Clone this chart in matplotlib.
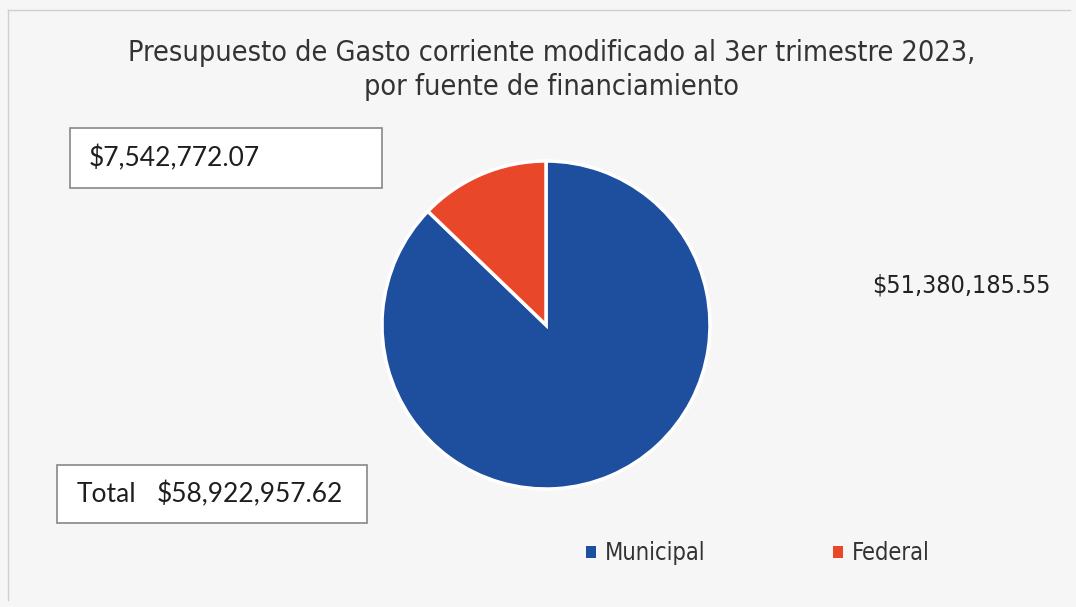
import matplotlib.pyplot as plt
from matplotlib.patches import Rectangle

# data
fuentes = ['Municipal', 'Federal']
montos = [51380185.55, 7542772.07]
colores = ['#1d4f9e', '#e9472a']
titulo = 'Presupuesto de Gasto corriente modificado al 3er trimestre 2023,\npor fuente de financiamiento'

plt.rcParams['font.family'] = ['DejaVu Sans']
plt.rcParams['font.stretch'] = 'condensed'

W, H = 1076, 607
fig = plt.figure(figsize=(W / 100, H / 100), dpi=100)
fig.patch.set_facecolor('#f6f6f6')

def fx(px):
    return px / W

def fy(py):
    return 1 - py / H

# pie axes
cx, cy, r = 546, 325, 164
ax = fig.add_axes([fx(cx - r), fy(cy + r), 2 * r / W, 2 * r / H])
ax.pie(montos, colors=colores, startangle=90, counterclock=False,
       wedgeprops=dict(edgecolor='white', linewidth=2.5))
ax.set_xlim(-1, 1)
ax.set_ylim(-1, 1)
ax.set_aspect('equal')
ax.axis('off')

fig.text(fx(552), fy(70), titulo, ha='center', va='center', fontsize=20.6,
         color='#333333', linespacing=1.3)

def fmt(v):
    return '${:,.2f}'.format(v)

box_font = dict(family=['Lato', 'DejaVu Sans'], fontstretch='normal', fontsize=19, color='#1e1e1e')

# outer frame lines
fig.add_artist(plt.Line2D([fx(8), fx(1070)], [fy(10), fy(10)], color='#cfcfcf', lw=1))
fig.add_artist(plt.Line2D([fx(8), fx(8)], [fy(10), fy(600)], color='#cfcfcf', lw=1))

# federal label box
fig.add_artist(Rectangle((fx(70), fy(188)), fx(312), 60 / H, transform=fig.transFigure,
                         facecolor='white', edgecolor='#888888', lw=1.2))
fig.text(fx(89), fy(158), fmt(montos[1]), ha='left', va='center', **box_font)

# municipal label
fig.text(fx(872), fy(285), fmt(montos[0]), ha='left', va='center', fontsize=18, color='#222222')

# total box
fig.add_artist(Rectangle((fx(57), fy(523)), fx(310), 58 / H, transform=fig.transFigure,
                         facecolor='white', edgecolor='#888888', lw=1.2))
fig.text(fx(77), fy(494), 'Total', ha='left', va='center', **box_font)
fig.text(fx(157), fy(494), fmt(sum(montos)), ha='left', va='center', **box_font)

# legend
handles = [Rectangle((0, 0), 1, 1, facecolor=c) for c in colores]
fig.legend(handles, fuentes, loc='center', bbox_to_anchor=(fx(758), fy(553)), ncol=2,
           frameon=False, fontsize=17, handlelength=0.4, handleheight=0.4,
           handletextpad=0.4, columnspacing=5.4, labelcolor='#333333')

fig.savefig('out.png', dpi=100, facecolor=fig.get_facecolor())
